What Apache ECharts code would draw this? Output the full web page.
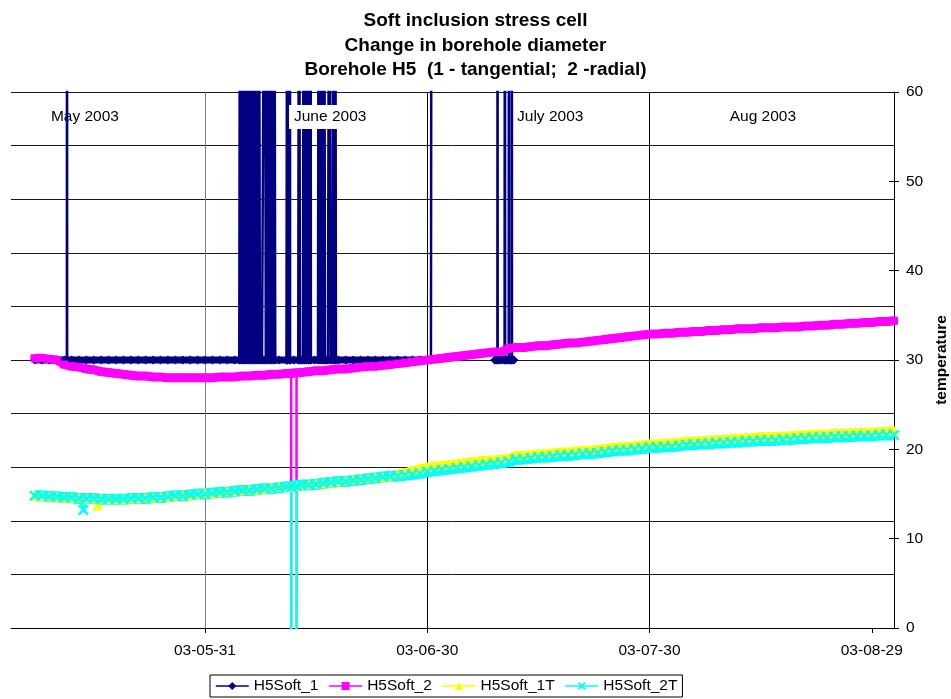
<!DOCTYPE html>
<html><head><meta charset="utf-8">
<script src="https://cdn.jsdelivr.net/npm/echarts@6/dist/echarts.min.js"></script>
<style>html,body{margin:0;padding:0;background:#fff}#c{width:951px;height:699px}</style>
</head><body><div id="c"></div>
<script>
// x values are days since 2003-05-01 (0 = May 1)
const seriesNames = ['H5Soft_1', 'H5Soft_2', 'H5Soft_1T', 'H5Soft_2T'];
const xMin = 3.82, xMax = 123.0;
const tickDays = [30, 60, 90, 120];
const tickLabels = ['03-05-31', '03-06-30', '03-07-30', '03-08-29'];
const gridDays = [30, 60, 90];
const monthDays = [13.8, 76.6, 105.3];
const monthLabels = ['May 2003', 'July 2003', 'Aug 2003'];
const juneDays = [46.9];
const juneLabels = ['June 2003'];

// daily readings, first reading on day 7 (-300 = off-scale dropout reading)
const dailyStart = 7;
const h5Soft2 = [
  30.2, 30.2, 30.1, 30.0, 29.5, 29.3, 29.2, 29.0, 28.9, 28.7,
  28.6, 28.5, 28.4, 28.3, 28.2, 28.2, 28.1, 28.1, 28.0, 28.0,
  28.0, 28.0, 28.0, 28.0, 28.0, 28.1, 28.1, 28.1, 28.2, 28.2,
  28.3, 28.3, 28.4, 28.4, 28.5, -300, 28.6, 28.7, 28.8, 28.8,
  28.9, 29.0, 29.0, 29.1, 29.2, 29.3, 29.3, 29.4, 29.5, 29.6,
  29.7, 29.8, 29.9, 30.0, 30.1, 30.2, 30.3, 30.4, 30.5, 30.6,
  30.7, 30.8, 30.9, 30.9, 31.3, 31.4, 31.4, 31.5, 31.6, 31.6,
  31.7, 31.8, 31.9, 31.9, 32.0, 32.1, 32.2, 32.3, 32.4, 32.5,
  32.6, 32.7, 32.8, 32.9, 32.9, 33.0, 33.0, 33.1, 33.1, 33.2,
  33.2, 33.3, 33.3, 33.4, 33.4, 33.5, 33.5, 33.5, 33.6, 33.6,
  33.6, 33.7, 33.7, 33.7, 33.8, 33.8, 33.9, 33.9, 34.0, 34.0,
  34.1, 34.1, 34.2, 34.2, 34.3, 34.3, 34.4
];
const h5Soft1T = [
  14.8, 14.8, 14.7, 14.7, 14.6, 14.6, 14.6, 14.5, 14.5, 14.5,
  14.4, 14.4, 14.4, 14.5, 14.5, 14.6, 14.6, 14.7, 14.7, 14.8,
  14.9, 14.9, 15.0, 15.1, 15.1, 15.2, 15.3, 15.3, 15.4, 15.5,
  15.5, 15.6, 15.7, 15.8, 15.8, -300, 16.0, 16.1, 16.2, 16.2,
  16.3, 16.4, 16.5, 16.6, 16.7, 16.8, 16.9, 16.9, 17.0, 17.2,
  17.4, 17.6, 17.8, 18.0, 18.1, 18.2, 18.3, 18.4, 18.5, 18.6,
  18.7, 18.8, 18.8, 18.9, 19.0, 19.3, 19.3, 19.4, 19.5, 19.5,
  19.6, 19.7, 19.7, 19.8, 19.9, 19.9, 20.0, 20.1, 20.2, 20.3,
  20.3, 20.4, 20.5, 20.6, 20.6, 20.7, 20.7, 20.8, 20.9, 20.9,
  21.0, 21.0, 21.1, 21.1, 21.2, 21.2, 21.3, 21.3, 21.4, 21.4,
  21.4, 21.5, 21.5, 21.6, 21.6, 21.7, 21.7, 21.7, 21.8, 21.8,
  21.8, 21.9, 21.9, 21.9, 22.0, 22.0, 22.1
];
const h5Soft2T = [
  14.8, 14.8, 14.7, 14.7, 14.6, 14.6, 14.5, 14.5, 14.5, 14.4,
  14.4, 14.4, 14.4, 14.5, 14.5, 14.5, 14.6, 14.6, 14.7, 14.8,
  14.8, 14.9, 15.0, 15.0, 15.1, 15.2, 15.2, 15.3, 15.4, 15.4,
  15.5, 15.6, 15.6, 15.7, 15.8, -300, 16.0, 16.0, 16.1, 16.2,
  16.3, 16.4, 16.4, 16.5, 16.6, 16.7, 16.8, 16.9, 17.0, 17.0,
  17.1, 17.2, 17.3, 17.5, 17.6, 17.7, 17.8, 17.9, 18.0, 18.1,
  18.2, 18.3, 18.4, 18.5, 18.6, 18.9, 18.9, 19.0, 19.1, 19.1,
  19.2, 19.3, 19.3, 19.4, 19.5, 19.5, 19.6, 19.7, 19.8, 19.9,
  19.9, 20.0, 20.1, 20.2, 20.2, 20.3, 20.3, 20.4, 20.5, 20.5,
  20.6, 20.6, 20.7, 20.7, 20.8, 20.8, 20.9, 20.9, 21.0, 21.0,
  21.0, 21.1, 21.1, 21.2, 21.2, 21.3, 21.3, 21.3, 21.4, 21.4,
  21.4, 21.5, 21.5, 21.5, 21.6, 21.6, 21.6
];
// isolated readings (dropouts and outliers)
const h5Soft2ExtraDays = [41.64, 41.7, 42.3, 42.36];
const h5Soft2ExtraVals = [28.5, -300, -300, 28.6];
const h5Soft1TExtraDays = [15.5, 41.64, 41.7, 42.3, 42.36];
const h5Soft1TExtraVals = [13.7, 15.8, -300, -300, 15.9];
const h5Soft2TExtraDays = [13.6, 41.64, 41.7, 42.32, 42.38];
const h5Soft2TExtraVals = [13.2, 15.8, -300, -300, 15.9];

// H5Soft_1: irregular readings with bursts of off-scale values
const h5Soft1Days = [
  7, 8, 9, 10, 11, 11.36, 11.38, 11.40,
  12, 13, 14, 15, 16, 17, 18, 19, 20, 21, 22, 23, 24, 25, 26, 27, 28, 29, 30, 31, 32, 33, 34,
  34.63, 34.75, 34.88, 35.0, 35.13, 35.25, 35.38, 35.5, 35.63, 35.75, 35.88, 36.0,
  36.13, 36.25, 36.38, 36.5, 36.63, 36.75, 36.88, 37.0, 37.13, 37.25, 37.42,
  37.7,
  37.96, 38.08, 38.21, 38.33, 38.46, 38.58, 38.71, 38.83, 38.96, 39.08, 39.21, 39.33, 39.49,
  40, 41, 41.09, 41.11, 41.13, 41.45, 41.47, 41.49, 42,
  42.59, 42.7, 42.82, 43,
  43.22, 43.34, 43.47, 43.59, 43.72, 43.84, 43.97, 44.1, 44.18, 44.24, 44.30,
  44.8,
  45.25, 45.37, 45.5, 45.62, 45.75, 45.87, 46.0, 46.1, 46.19,
  46.4,
  46.6, 46.78, 46.96,
  47.23, 47.35, 47.47, 47.57, 47.68,
  48, 49, 50, 51, 52, 53, 54, 55, 56, 57, 58, 59, 60,
  60.5, 60.59, 60.7,
  69.1, 69.3, 69.47, 69.49, 69.51, 69.8, 70.1, 70.44, 70.48, 70.52,
  70.75, 71.0, 71.02, 71.04, 71.2, 71.4, 71.42, 71.44, 71.7
];
const h5Soft1Vals = [
  30, 30, 30, 30, 30, 30, 100, 30,
  30, 30, 30, 30, 30, 30, 30, 30, 30, 30, 30, 30, 30, 30, 30, 30, 30, 30, 30, 30, 30, 30, 30,
  30, 100, 30, 100, 30, 100, 30, 100, 30, 100, 30, 100,
  30, 100, 30, 100, 30, 100, 30, 100, 30, 100, 30,
  30,
  30, 100, 30, 100, 30, 100, 30, 100, 30, 100, 30, 100, 30,
  30, 30, 30, 100, 30, 30, 100, 30, 30,
  30, 100, 30, 30,
  30, 100, 30, 100, 30, 100, 30, 100, 30, 100, 30,
  30,
  30, 100, 30, 100, 30, 100, 30, 100, 30,
  30,
  30, 100, 30,
  30, 100, 30, 100, 30,
  30, 30, 30, 30, 30, 30, 30, 30, 30, 30, 30, 30, 30,
  30, 100, null,
  30, 30, 30, 100, 30, 30, 30, 30, 100, 30,
  30, 30, 100, 30, 30, 30, 100, 30, 30
];

const FONT = '"Liberation Sans", Arial, sans-serif';
const colors = ['#000080', '#FF00FF', '#FFFF00', '#00FFFF'];

function dailyPoints(vals) {
  return vals.map((v, i) => [dailyStart + i, v]);
}
function onScale(pts) {
  return pts.filter(p => p[1] === '-' || (p[1] >= 0 && p[1] <= 60));
}
function withExtras(vals, exDays, exVals) {
  const pts = dailyPoints(vals);
  exDays.forEach((d, i) => pts.push([d, exVals[i]]));
  pts.sort((a, b) => a[0] - b[0]);
  return pts;
}
const navyPts = h5Soft1Days.map((d, i) => [d, h5Soft1Vals[i] === null ? '-' : h5Soft1Vals[i]]);

const xSymbol = 'path://M0,1.6L1.6,0L5,3.4L8.4,0L10,1.6L6.6,5L10,8.4L8.4,10L5,6.6L1.6,10L0,8.4L3.4,5Z';

function mainSeries(name, data, color, symbol, size) {
  return {
    type: 'line', name, data, xAxisIndex: 0, yAxisIndex: 1,
    symbol, symbolSize: size, showSymbol: true, clip: true,
    lineStyle: { color, width: 2.5 }, itemStyle: { color, borderWidth: 0 },
    emphasis: { disabled: true }, animation: false, z: 2
  };
}
function bandSeries(name, data, color, width) {
  return {
    type: 'line', name: name + ' band', data: onScale(data), xAxisIndex: 0, yAxisIndex: 1,
    symbol: 'none', clip: true, silent: true,
    lineStyle: { color, width }, emphasis: { disabled: true }, animation: false, z: 2
  };
}

const chart = echarts.init(document.getElementById('c'), null, { renderer: 'canvas' });
const axisText = { fontSize: 15.5, color: '#000', fontFamily: FONT };
chart.setOption({
  animation: false,
  backgroundColor: '#fff',
  title: {
    text: 'Soft inclusion stress cell\nChange in borehole diameter\nBorehole H5  (1 - tangential;  2 -radial)',
    left: 'center', top: 4,
    textStyle: { fontSize: 19, fontWeight: 'bold', fontFamily: FONT, color: '#000', lineHeight: 24.5 }
  },
  legend: {
    data: seriesNames,
    left: 210, top: 675,
    itemWidth: 33, itemHeight: 10, itemGap: 10,
    padding: [3, 5, 3, 5],
    borderColor: '#000', borderWidth: 1,
    textStyle: { fontSize: 15.5, color: '#000', fontFamily: FONT },
    lineStyle: { width: 1.5 }
  },
  grid: { left: 11, right: 57, top: 92, bottom: 71, containLabel: false, outerBoundsMode: 'none' },
  xAxis: [
    {
      type: 'value', position: 'bottom', min: xMin, max: xMax,
      axisLine: { show: true, onZero: false, lineStyle: { color: '#000', width: 1 } },
      axisTick: { show: true, customValues: tickDays, length: 5, lineStyle: { color: '#000' } },
      axisLabel: {
        customValues: tickDays, margin: 15, ...axisText,
        formatter: v => tickLabels[tickDays.indexOf(v)]
      },
      splitLine: { show: false }
    },
    {
      type: 'value', position: 'top', min: xMin, max: xMax,
      axisLine: { show: false, onZero: false }, axisTick: { show: false },
      axisLabel: {
        inside: true, customValues: monthDays, margin: 17, ...axisText,
        formatter: v => monthLabels[monthDays.indexOf(v)]
      },
      splitLine: { show: false }
    },
    {
      type: 'value', position: 'top', min: xMin, max: xMax, z: 10,
      axisLine: { show: false, onZero: false }, axisTick: { show: false },
      axisLabel: {
        inside: true, customValues: juneDays, margin: 13, ...axisText,
        backgroundColor: '#fff', padding: [4, 5, 4, 5],
        formatter: v => juneLabels[juneDays.indexOf(v)]
      },
      splitLine: { show: false }
    },
    {
      type: 'value', position: 'bottom', min: xMin, max: xMax,
      axisLine: { show: false, onZero: false },
      axisTick: { show: false, customValues: gridDays },
      axisLabel: { show: false },
      splitLine: { show: true, lineStyle: { color: ['#808080', '#000', '#000'], width: 1 } }
    }
  ],
  yAxis: [
    {
      type: 'value', position: 'left', min: 0, max: 10, interval: 1,
      axisLine: { show: false, onZero: false }, axisTick: { show: false }, axisLabel: { show: false },
      splitLine: { show: true, lineStyle: { color: '#1a1a1a', width: 1 } }
    },
    {
      type: 'value', position: 'right', min: 0, max: 60, interval: 10,
      axisLine: { show: true, onZero: false, lineStyle: { color: '#000', width: 1 } },
      axisTick: { show: true, inside: false, length: 5, lineStyle: { color: '#000' } },
      axisLabel: { margin: 12, ...axisText },
      splitLine: { show: false },
      name: 'temperature', nameLocation: 'middle', nameRotate: 90, nameGap: 38,
      nameTextStyle: { fontSize: 15.5, fontWeight: 'bold', color: '#000', fontFamily: FONT }
    },
    {
      type: 'value', position: 'right', min: 0, max: 60, interval: 10,
      axisLine: { show: false, onZero: false },
      axisTick: { show: true, inside: true, length: 5, lineStyle: { color: '#000' } },
      axisLabel: { show: false }, splitLine: { show: false }
    }
  ],
  series: [
    bandSeries('H5Soft_1', navyPts, colors[0], 7),
    mainSeries('H5Soft_1', navyPts, colors[0], 'diamond', 9),
    bandSeries('H5Soft_2', dailyPoints(h5Soft2), colors[1], 9),
    mainSeries('H5Soft_2', withExtras(h5Soft2, h5Soft2ExtraDays, h5Soft2ExtraVals), colors[1], 'rect', 8),
    bandSeries('H5Soft_1T', dailyPoints(h5Soft1T), colors[2], 9),
    mainSeries('H5Soft_1T', withExtras(h5Soft1T, h5Soft1TExtraDays, h5Soft1TExtraVals), colors[2], 'triangle', 10),
    bandSeries('H5Soft_2T', dailyPoints(h5Soft2T), colors[3], 11),
    mainSeries('H5Soft_2T', withExtras(h5Soft2T, h5Soft2TExtraDays, h5Soft2TExtraVals), colors[3], xSymbol, 11)
  ]
});
</script>
</body></html>
